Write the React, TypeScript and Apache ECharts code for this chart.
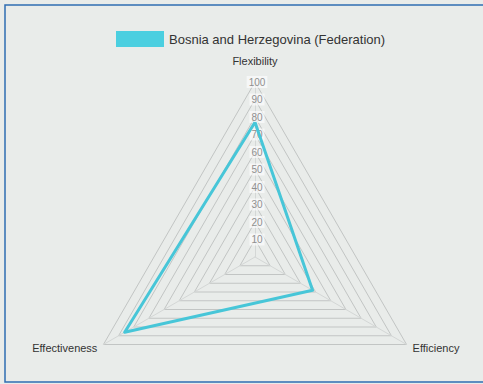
import React, { useEffect, useRef } from "react";
import * as echarts from "echarts";

const indicators = ["Flexibility", "Effectiveness", "Efficiency"];
const maxValues = [100, 100, 100];
const seriesName = "Bosnia and Herzegovina (Federation)";
const seriesValues = [77, 86, 38];

export default function App() {
  const ref = useRef<HTMLDivElement>(null);
  useEffect(() => {
    document.body.style.margin = "0";
    const chart = echarts.init(ref.current!, undefined, { renderer: "svg" });
    chart.setOption({
      animation: false,
      backgroundColor: "#e9ecea",
      graphic: [
        {
          type: "rect",
          shape: { x: 5, y: 5, width: 500, height: 377 },
          style: { fill: "none", stroke: "#2f6db3", lineWidth: 1.5 },
          silent: true,
        },
      ],
      legend: {
        top: 26,
        left: 111,
        itemWidth: 48,
        itemHeight: 16,
        itemGap: 10,
        icon: "rect",
        textStyle: { fontFamily: "Liberation Sans, Arial", fontSize: 13, color: "#333" },
        data: [seriesName],
      },
      radar: {
        center: [255, 257],
        radius: 175,
        startAngle: 90,
        shape: "polygon",
        splitNumber: 10,
        indicator: indicators.map((name, i) => ({
          name,
          max: maxValues[i],
          min: 0,
          axisLabel: { show: i === 0 },
        })),
        axisName: {
          color: "#333",
          fontFamily: "Liberation Sans, Arial",
          fontSize: 11,
          formatter: (name: string) =>
            name === indicators[0] ? `{top|${name}}` : `{side|${name}}`,
          rich: {
            top: { fontSize: 11, color: "#333", padding: [0, 0, 9, 0] },
            side: { fontSize: 11, color: "#333" },
          },
        },
        nameGap: 7,
        splitArea: { show: false },
        splitLine: { lineStyle: { color: "#c2c5c4", width: 1 } },
        axisLine: { show: true, lineStyle: { color: "#d4d7d6", width: 1 } },
        axisTick: { show: false },
        axisLabel: {
          show: false,
          showMinLabel: false,
          color: "#909090",
          fontFamily: "Liberation Sans, Arial",
          fontSize: 10,
          margin: -2,
          align: "center",
          backgroundColor: "rgba(255,255,255,0.6)",
          padding: [1, 2],
        },
      },
      series: [
        {
          type: "radar",
          name: seriesName,
          symbol: "none",
          color: "#4bcfe0",
          lineStyle: { color: "#47c6d8", width: 3 },
          data: [{ value: seriesValues, name: seriesName }],
        },
      ],
    });
    return () => chart.dispose();
  }, []);
  return (
    <div
      ref={ref}
      style={{ position: "absolute", left: 0, top: 0, width: 483, height: 384 }}
    />
  );
}
